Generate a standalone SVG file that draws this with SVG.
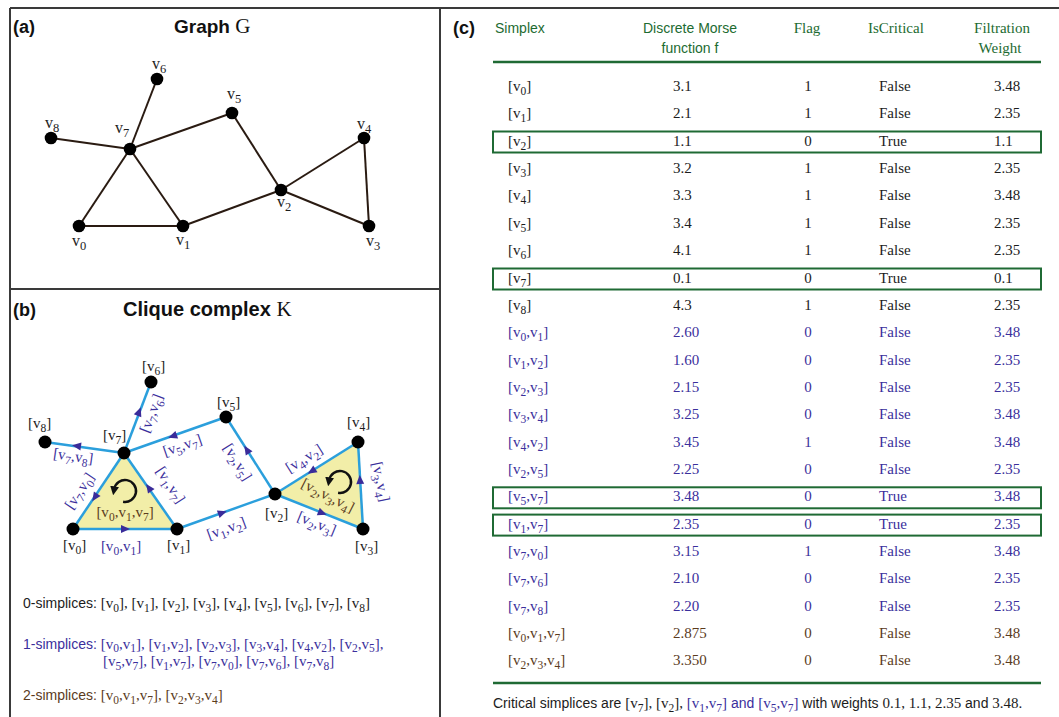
<svg xmlns="http://www.w3.org/2000/svg" width="1059" height="717" viewBox="0 0 1059 717">
<style>
.frame{stroke:#3a3a3a;stroke-width:2;fill:none}
.ser{font-family:"Liberation Serif","Times New Roman",serif;font-size:15px}
.sans{font-family:"Liberation Sans",Arial,sans-serif}
.ttl{font-family:"Liberation Sans",Arial,sans-serif;font-weight:bold;fill:#111}
.s{font-size:11.5px}
.la{font-size:16px}
.la .s{font-size:12.5px}
.ga{stroke:#2a1b12;stroke-width:2;fill:none}
.gb{stroke:#2b9fdc;stroke-width:2.5;fill:none}
.nd{fill:#000}
.k{fill:#1c1c1c}
.p{fill:#3b2f9c}
.br{fill:#5b3b1d}
.g{fill:#1d6b31}
.box{fill:none;stroke:#1f6a34;stroke-width:2}
.hl{stroke:#1f6a34;stroke-width:2.5}
.ah{fill:#3a2c9a}
.tri{fill:#f2eea8;stroke:none}
.rot{stroke:#111;stroke-width:2.5;fill:none}
</style>
<defs>
<path id="ah" d="M5,0 L-4,-4 L-4,4 Z"/>
<marker id="rm" viewBox="0 0 10 10" refX="3" refY="5" markerWidth="3.6" markerHeight="3.6" orient="auto"><path d="M0,0 L10,5 L0,10 Z" fill="#111"/></marker>
</defs>
<rect width="1059" height="717" fill="#fff"/>
<g id="frame" class="frame">
<line x1="10" y1="8" x2="1059" y2="8"/>
<line x1="10" y1="8" x2="10" y2="717"/>
<line x1="440" y1="8" x2="440" y2="717"/>
<line x1="10" y1="289" x2="440" y2="289"/>
</g>

<!-- Panel a -->
<text x="13" y="33" class="ttl" font-size="18">(a)</text>
<text x="174" y="33" class="ttl" font-size="19">Graph <tspan font-family="Liberation Serif, serif" font-weight="normal" font-size="21">G</tspan></text>
<g id="a-edges" class="ga">
<line x1="157" y1="79" x2="130" y2="149"/>
<line x1="51" y1="138" x2="130" y2="149"/>
<line x1="130" y1="149" x2="232" y2="113"/>
<line x1="130" y1="149" x2="79" y2="226"/>
<line x1="130" y1="149" x2="183" y2="226"/>
<line x1="79" y1="226" x2="183" y2="226"/>
<line x1="183" y1="226" x2="281" y2="190"/>
<line x1="232" y1="113" x2="281" y2="190"/>
<line x1="281" y1="190" x2="364" y2="138"/>
<line x1="281" y1="190" x2="369" y2="226"/>
<line x1="364" y1="138" x2="369" y2="226"/>
</g>
<g class="ser k la">
<g id="a-v0"><circle class="nd" cx="79" cy="226" r="6.3"/><text x="72" y="246">v<tspan class="s" dy="4">0</tspan></text></g>
<g id="a-v1"><circle class="nd" cx="183" cy="226" r="6.3"/><text x="176" y="245">v<tspan class="s" dy="4">1</tspan></text></g>
<g id="a-v2"><circle class="nd" cx="281" cy="190" r="6.3"/><text x="277" y="207">v<tspan class="s" dy="4">2</tspan></text></g>
<g id="a-v3"><circle class="nd" cx="369" cy="226" r="6.3"/><text x="366" y="246">v<tspan class="s" dy="4">3</tspan></text></g>
<g id="a-v4"><circle class="nd" cx="364" cy="138" r="6.3"/><text x="357" y="129">v<tspan class="s" dy="4">4</tspan></text></g>
<g id="a-v5"><circle class="nd" cx="232" cy="113" r="6.3"/><text x="227" y="99">v<tspan class="s" dy="4">5</tspan></text></g>
<g id="a-v6"><circle class="nd" cx="157" cy="79" r="6.3"/><text x="152" y="69">v<tspan class="s" dy="4">6</tspan></text></g>
<g id="a-v7"><circle class="nd" cx="130" cy="149" r="6.3"/><text x="115" y="133">v<tspan class="s" dy="4">7</tspan></text></g>
<g id="a-v8"><circle class="nd" cx="51" cy="138" r="6.3"/><text x="45" y="128">v<tspan class="s" dy="4">8</tspan></text></g>
</g>

<!-- Panel b -->
<text x="13" y="316" class="ttl" font-size="18">(b)</text>
<text x="123" y="316" class="ttl" font-size="20">Clique complex <tspan font-family="Liberation Serif, serif" font-weight="normal" font-size="21">K</tspan></text>
<g id="b-faces">
<polygon class="tri" points="73,529 177,529 124,453"/>
<polygon class="tri" points="275,494 363,529 358,442"/>
</g>
<g id="b-edges" class="gb">
<line x1="124" y1="453" x2="45" y2="442"/>
<line x1="124" y1="453" x2="151" y2="382"/>
<line x1="226" y1="417" x2="124" y2="453"/>
<line x1="275" y1="494" x2="226" y2="417"/>
<line x1="177" y1="529" x2="124" y2="453"/>
<line x1="124" y1="453" x2="73" y2="529"/>
<line x1="73" y1="529" x2="177" y2="529"/>
<line x1="177" y1="529" x2="275" y2="494"/>
<line x1="275" y1="494" x2="363" y2="529"/>
<line x1="358" y1="442" x2="275" y2="494"/>
<line x1="363" y1="529" x2="358" y2="442"/>
</g>
<g id="b-arrows" class="ah">
<use href="#ah" transform="translate(77,446) rotate(188)"/>
<use href="#ah" transform="translate(139,412) rotate(-69)"/>
<use href="#ah" transform="translate(173,436) rotate(160.6)"/>
<use href="#ah" transform="translate(247,450) rotate(-122.5)"/>
<use href="#ah" transform="translate(149,488) rotate(-125)"/>
<use href="#ah" transform="translate(95,497) rotate(124)"/>
<use href="#ah" transform="translate(125,529) rotate(0)"/>
<use href="#ah" transform="translate(222,513) rotate(-19.7)"/>
<use href="#ah" transform="translate(322,513) rotate(21.7)"/>
<use href="#ah" transform="translate(312,471) rotate(148)"/>
<use href="#ah" transform="translate(360,480) rotate(-93.3)"/>
</g>
<g id="b-orient">
<path class="rot" d="M123.1,501.8 A11,11 0 1 0 114.2,489.1" marker-end="url(#rm)"/>
<path class="rot" d="M338.1,492.8 A11,11 0 1 0 329.2,480.1" marker-end="url(#rm)"/>
</g>
<g id="b-edge-labels" class="ser p" text-anchor="middle">
<text transform="translate(73,458) rotate(8)" y="3">[v<tspan class="s" dy="4">7</tspan><tspan dy="-4">,v</tspan><tspan class="s" dy="4">8</tspan><tspan dy="-4">]</tspan></text>
<text transform="translate(153,414) rotate(-69)" y="3">[v<tspan class="s" dy="4">7</tspan><tspan dy="-4">,v</tspan><tspan class="s" dy="4">6</tspan><tspan dy="-4">]</tspan></text>
<text transform="translate(183,447) rotate(-19)" y="3">[v<tspan class="s" dy="4">5</tspan><tspan dy="-4">,v</tspan><tspan class="s" dy="4">7</tspan><tspan dy="-4">]</tspan></text>
<text transform="translate(236,463) rotate(58)" y="3">[v<tspan class="s" dy="4">2</tspan><tspan dy="-4">,v</tspan><tspan class="s" dy="4">5</tspan><tspan dy="-4">]</tspan></text>
<text transform="translate(169,486) rotate(57)" y="3">[v<tspan class="s" dy="4">1</tspan><tspan dy="-4">,v</tspan><tspan class="s" dy="4">7</tspan><tspan dy="-4">]</tspan></text>
<text transform="translate(81,492) rotate(-56)" y="3">[v<tspan class="s" dy="4">7</tspan><tspan dy="-4">,v</tspan><tspan class="s" dy="4">0</tspan><tspan dy="-4">]</tspan></text>
<text transform="translate(121,548)" y="3">[v<tspan class="s" dy="4">0</tspan><tspan dy="-4">,v</tspan><tspan class="s" dy="4">1</tspan><tspan dy="-4">]</tspan></text>
<text transform="translate(227,530) rotate(-20)" y="3">[v<tspan class="s" dy="4">1</tspan><tspan dy="-4">,v</tspan><tspan class="s" dy="4">2</tspan><tspan dy="-4">]</tspan></text>
<text transform="translate(316,525) rotate(22)" y="3">[v<tspan class="s" dy="4">2</tspan><tspan dy="-4">,v</tspan><tspan class="s" dy="4">3</tspan><tspan dy="-4">]</tspan></text>
<text transform="translate(305,460) rotate(-32)" y="3">[v<tspan class="s" dy="4">4</tspan><tspan dy="-4">,v</tspan><tspan class="s" dy="4">2</tspan><tspan dy="-4">]</tspan></text>
<text transform="translate(379,482) rotate(78)" y="3">[v<tspan class="s" dy="4">3</tspan><tspan dy="-4">,v</tspan><tspan class="s" dy="4">4</tspan><tspan dy="-4">]</tspan></text>
<text class="br" transform="translate(125,514)" y="3">[v<tspan class="s" dy="4">0</tspan><tspan dy="-4">,v</tspan><tspan class="s" dy="4">1</tspan><tspan dy="-4">,v</tspan><tspan class="s" dy="4">7</tspan><tspan dy="-4">]</tspan></text>
<text class="br" transform="translate(327,497) rotate(27)" y="3">[v<tspan class="s" dy="4">2</tspan><tspan dy="-4">,v</tspan><tspan class="s" dy="4">3</tspan><tspan dy="-4">,v</tspan><tspan class="s" dy="4">4</tspan><tspan dy="-4">]</tspan></text>
</g>
<g class="ser k">
<g id="b-v0"><circle class="nd" cx="73" cy="529" r="6.5"/><text x="63" y="550">[v<tspan class="s" dy="4">0</tspan><tspan dy="-4">]</tspan></text></g>
<g id="b-v1"><circle class="nd" cx="177" cy="529" r="6.5"/><text x="167" y="550">[v<tspan class="s" dy="4">1</tspan><tspan dy="-4">]</tspan></text></g>
<g id="b-v2"><circle class="nd" cx="275" cy="494" r="6.5"/><text x="265" y="518">[v<tspan class="s" dy="4">2</tspan><tspan dy="-4">]</tspan></text></g>
<g id="b-v3"><circle class="nd" cx="363" cy="529" r="6.5"/><text x="355" y="551">[v<tspan class="s" dy="4">3</tspan><tspan dy="-4">]</tspan></text></g>
<g id="b-v4"><circle class="nd" cx="358" cy="442" r="6.5"/><text x="347" y="427">[v<tspan class="s" dy="4">4</tspan><tspan dy="-4">]</tspan></text></g>
<g id="b-v5"><circle class="nd" cx="226" cy="417" r="6.5"/><text x="217" y="407">[v<tspan class="s" dy="4">5</tspan><tspan dy="-4">]</tspan></text></g>
<g id="b-v6"><circle class="nd" cx="151" cy="382" r="6.5"/><text x="142" y="371">[v<tspan class="s" dy="4">6</tspan><tspan dy="-4">]</tspan></text></g>
<g id="b-v7"><circle class="nd" cx="124" cy="453" r="6.5"/><text x="103" y="440">[v<tspan class="s" dy="4">7</tspan><tspan dy="-4">]</tspan></text></g>
<g id="b-v8"><circle class="nd" cx="45" cy="442" r="6.5"/><text x="28" y="428">[v<tspan class="s" dy="4">8</tspan><tspan dy="-4">]</tspan></text></g>
</g>
<g id="b-lists" class="ser">
<text x="23" y="608" class="k"><tspan class="sans" font-size="14">0-simplices: </tspan>[v<tspan class="s" dy="4">0</tspan><tspan dy="-4">], [v</tspan><tspan class="s" dy="4">1</tspan><tspan dy="-4">], [v</tspan><tspan class="s" dy="4">2</tspan><tspan dy="-4">], [v</tspan><tspan class="s" dy="4">3</tspan><tspan dy="-4">], [v</tspan><tspan class="s" dy="4">4</tspan><tspan dy="-4">], [v</tspan><tspan class="s" dy="4">5</tspan><tspan dy="-4">], [v</tspan><tspan class="s" dy="4">6</tspan><tspan dy="-4">], [v</tspan><tspan class="s" dy="4">7</tspan><tspan dy="-4">], [v</tspan><tspan class="s" dy="4">8</tspan><tspan dy="-4">]</tspan></text>
<text x="23" y="649" class="p"><tspan class="sans" font-size="14">1-simplices: </tspan>[v<tspan class="s" dy="3">0</tspan><tspan dy="-3">,v</tspan><tspan class="s" dy="3">1</tspan><tspan dy="-3">], [v</tspan><tspan class="s" dy="3">1</tspan><tspan dy="-3">,v</tspan><tspan class="s" dy="3">2</tspan><tspan dy="-3">], [v</tspan><tspan class="s" dy="3">2</tspan><tspan dy="-3">,v</tspan><tspan class="s" dy="3">3</tspan><tspan dy="-3">], [v</tspan><tspan class="s" dy="3">3</tspan><tspan dy="-3">,v</tspan><tspan class="s" dy="3">4</tspan><tspan dy="-3">], [v</tspan><tspan class="s" dy="3">4</tspan><tspan dy="-3">,v</tspan><tspan class="s" dy="3">2</tspan><tspan dy="-3">], [v</tspan><tspan class="s" dy="3">2</tspan><tspan dy="-3">,v</tspan><tspan class="s" dy="3">5</tspan><tspan dy="-3">],</tspan></text>
<text x="103" y="666" class="p">[v<tspan class="s" dy="4">5</tspan><tspan dy="-4">,v</tspan><tspan class="s" dy="4">7</tspan><tspan dy="-4">], [v</tspan><tspan class="s" dy="4">1</tspan><tspan dy="-4">,v</tspan><tspan class="s" dy="4">7</tspan><tspan dy="-4">], [v</tspan><tspan class="s" dy="4">7</tspan><tspan dy="-4">,v</tspan><tspan class="s" dy="4">0</tspan><tspan dy="-4">], [v</tspan><tspan class="s" dy="4">7</tspan><tspan dy="-4">,v</tspan><tspan class="s" dy="4">6</tspan><tspan dy="-4">], [v</tspan><tspan class="s" dy="4">7</tspan><tspan dy="-4">,v</tspan><tspan class="s" dy="4">8</tspan><tspan dy="-4">]</tspan></text>
<text x="23" y="700" class="br"><tspan class="sans" font-size="14">2-simplices: </tspan>[v<tspan class="s" dy="4">0</tspan><tspan dy="-4">,v</tspan><tspan class="s" dy="4">1</tspan><tspan dy="-4">,v</tspan><tspan class="s" dy="4">7</tspan><tspan dy="-4">], [v</tspan><tspan class="s" dy="4">2</tspan><tspan dy="-4">,v</tspan><tspan class="s" dy="4">3</tspan><tspan dy="-4">,v</tspan><tspan class="s" dy="4">4</tspan><tspan dy="-4">]</tspan></text>
</g>

<!-- Panel c -->
<text x="453" y="34" class="ttl" font-size="18">(c)</text>
<g id="c-header" class="g">
<text x="495" y="33" class="sans" font-size="14">Simplex</text>
<text x="690" y="33" class="sans" font-size="14" text-anchor="middle">Discrete Morse</text>
<text x="690" y="53" class="sans" font-size="14" text-anchor="middle">function f</text>
<text x="807" y="33" class="ser" text-anchor="middle">Flag</text>
<text x="868" y="33" class="ser">IsCritical</text>
<text x="1002" y="33" class="ser" text-anchor="middle">Filtration</text>
<text x="1000" y="53" class="ser" text-anchor="middle">Weight</text>
</g>
<g id="c-rules">
<line class="hl" x1="493" y1="62" x2="1041" y2="62"/>
<line class="hl" x1="493" y1="683" x2="1041" y2="683"/>
<rect class="box" x="493" y="131.5" width="548" height="21"/>
<rect class="box" x="493" y="268.5" width="548" height="21"/>
<rect class="box" x="493" y="487.3" width="548" height="21"/>
<rect class="box" x="493" y="514.6" width="548" height="21"/>
</g>
<g id="c-rows" class="ser">
<g class="k" transform="translate(0,91)"><text x="508">[v<tspan class="s" dy="4">0</tspan><tspan dy="-4">]</tspan></text><text x="673">3.1</text><text x="808" text-anchor="middle">1</text><text x="879">False</text><text x="994">3.48</text></g>
<g class="k" transform="translate(0,118.4)"><text x="508">[v<tspan class="s" dy="4">1</tspan><tspan dy="-4">]</tspan></text><text x="673">2.1</text><text x="808" text-anchor="middle">1</text><text x="879">False</text><text x="994">2.35</text></g>
<g class="k" transform="translate(0,145.7)"><text x="508">[v<tspan class="s" dy="4">2</tspan><tspan dy="-4">]</tspan></text><text x="673">1.1</text><text x="808" text-anchor="middle">0</text><text x="879">True</text><text x="994">1.1</text></g>
<g class="k" transform="translate(0,173.1)"><text x="508">[v<tspan class="s" dy="4">3</tspan><tspan dy="-4">]</tspan></text><text x="673">3.2</text><text x="808" text-anchor="middle">1</text><text x="879">False</text><text x="994">2.35</text></g>
<g class="k" transform="translate(0,200.4)"><text x="508">[v<tspan class="s" dy="4">4</tspan><tspan dy="-4">]</tspan></text><text x="673">3.3</text><text x="808" text-anchor="middle">1</text><text x="879">False</text><text x="994">3.48</text></g>
<g class="k" transform="translate(0,227.8)"><text x="508">[v<tspan class="s" dy="4">5</tspan><tspan dy="-4">]</tspan></text><text x="673">3.4</text><text x="808" text-anchor="middle">1</text><text x="879">False</text><text x="994">2.35</text></g>
<g class="k" transform="translate(0,255.1)"><text x="508">[v<tspan class="s" dy="4">6</tspan><tspan dy="-4">]</tspan></text><text x="673">4.1</text><text x="808" text-anchor="middle">1</text><text x="879">False</text><text x="994">2.35</text></g>
<g class="k" transform="translate(0,282.5)"><text x="508">[v<tspan class="s" dy="4">7</tspan><tspan dy="-4">]</tspan></text><text x="673">0.1</text><text x="808" text-anchor="middle">0</text><text x="879">True</text><text x="994">0.1</text></g>
<g class="k" transform="translate(0,309.8)"><text x="508">[v<tspan class="s" dy="4">8</tspan><tspan dy="-4">]</tspan></text><text x="673">4.3</text><text x="808" text-anchor="middle">1</text><text x="879">False</text><text x="994">2.35</text></g>
<g class="p" transform="translate(0,337.2)"><text x="508">[v<tspan class="s" dy="4">0</tspan><tspan dy="-4">,v</tspan><tspan class="s" dy="4">1</tspan><tspan dy="-4">]</tspan></text><text x="673">2.60</text><text x="808" text-anchor="middle">0</text><text x="879">False</text><text x="994">3.48</text></g>
<g class="p" transform="translate(0,364.5)"><text x="508">[v<tspan class="s" dy="4">1</tspan><tspan dy="-4">,v</tspan><tspan class="s" dy="4">2</tspan><tspan dy="-4">]</tspan></text><text x="673">1.60</text><text x="808" text-anchor="middle">0</text><text x="879">False</text><text x="994">2.35</text></g>
<g class="p" transform="translate(0,391.9)"><text x="508">[v<tspan class="s" dy="4">2</tspan><tspan dy="-4">,v</tspan><tspan class="s" dy="4">3</tspan><tspan dy="-4">]</tspan></text><text x="673">2.15</text><text x="808" text-anchor="middle">0</text><text x="879">False</text><text x="994">2.35</text></g>
<g class="p" transform="translate(0,419.2)"><text x="508">[v<tspan class="s" dy="4">3</tspan><tspan dy="-4">,v</tspan><tspan class="s" dy="4">4</tspan><tspan dy="-4">]</tspan></text><text x="673">3.25</text><text x="808" text-anchor="middle">0</text><text x="879">False</text><text x="994">3.48</text></g>
<g class="p" transform="translate(0,446.6)"><text x="508">[v<tspan class="s" dy="4">4</tspan><tspan dy="-4">,v</tspan><tspan class="s" dy="4">2</tspan><tspan dy="-4">]</tspan></text><text x="673">3.45</text><text x="808" text-anchor="middle">1</text><text x="879">False</text><text x="994">3.48</text></g>
<g class="p" transform="translate(0,473.9)"><text x="508">[v<tspan class="s" dy="4">2</tspan><tspan dy="-4">,v</tspan><tspan class="s" dy="4">5</tspan><tspan dy="-4">]</tspan></text><text x="673">2.25</text><text x="808" text-anchor="middle">0</text><text x="879">False</text><text x="994">2.35</text></g>
<g class="p" transform="translate(0,501.3)"><text x="508">[v<tspan class="s" dy="4">5</tspan><tspan dy="-4">,v</tspan><tspan class="s" dy="4">7</tspan><tspan dy="-4">]</tspan></text><text x="673">3.48</text><text x="808" text-anchor="middle">0</text><text x="879">True</text><text x="994">3.48</text></g>
<g class="p" transform="translate(0,528.6)"><text x="508">[v<tspan class="s" dy="4">1</tspan><tspan dy="-4">,v</tspan><tspan class="s" dy="4">7</tspan><tspan dy="-4">]</tspan></text><text x="673">2.35</text><text x="808" text-anchor="middle">0</text><text x="879">True</text><text x="994">2.35</text></g>
<g class="p" transform="translate(0,556)"><text x="508">[v<tspan class="s" dy="4">7</tspan><tspan dy="-4">,v</tspan><tspan class="s" dy="4">0</tspan><tspan dy="-4">]</tspan></text><text x="673">3.15</text><text x="808" text-anchor="middle">1</text><text x="879">False</text><text x="994">3.48</text></g>
<g class="p" transform="translate(0,583.3)"><text x="508">[v<tspan class="s" dy="4">7</tspan><tspan dy="-4">,v</tspan><tspan class="s" dy="4">6</tspan><tspan dy="-4">]</tspan></text><text x="673">2.10</text><text x="808" text-anchor="middle">0</text><text x="879">False</text><text x="994">2.35</text></g>
<g class="p" transform="translate(0,610.7)"><text x="508">[v<tspan class="s" dy="4">7</tspan><tspan dy="-4">,v</tspan><tspan class="s" dy="4">8</tspan><tspan dy="-4">]</tspan></text><text x="673">2.20</text><text x="808" text-anchor="middle">0</text><text x="879">False</text><text x="994">2.35</text></g>
<g class="br" transform="translate(0,638)"><text x="508">[v<tspan class="s" dy="4">0</tspan><tspan dy="-4">,v</tspan><tspan class="s" dy="4">1</tspan><tspan dy="-4">,v</tspan><tspan class="s" dy="4">7</tspan><tspan dy="-4">]</tspan></text><text x="673">2.875</text><text x="808" text-anchor="middle">0</text><text x="879">False</text><text x="994">3.48</text></g>
<g class="br" transform="translate(0,665.4)"><text x="508">[v<tspan class="s" dy="4">2</tspan><tspan dy="-4">,v</tspan><tspan class="s" dy="4">3</tspan><tspan dy="-4">,v</tspan><tspan class="s" dy="4">4</tspan><tspan dy="-4">]</tspan></text><text x="673">3.350</text><text x="808" text-anchor="middle">0</text><text x="879">False</text><text x="994">3.48</text></g>
</g>
<text id="c-footer" x="493" y="708" class="ser k"><tspan class="sans" font-size="14">Critical simplices are </tspan>[v<tspan class="s" dy="4">7</tspan><tspan dy="-4">], [v</tspan><tspan class="s" dy="4">2</tspan><tspan dy="-4">], </tspan><tspan class="p">[v<tspan class="s" dy="4">1</tspan><tspan dy="-4">,v</tspan><tspan class="s" dy="4">7</tspan><tspan dy="-4">]</tspan><tspan class="sans" font-size="14"> and </tspan>[v<tspan class="s" dy="4">5</tspan><tspan dy="-4">,v</tspan><tspan class="s" dy="4">7</tspan><tspan dy="-4">]</tspan></tspan><tspan class="sans" font-size="14"> with weights </tspan>0.1, 1.1, 2.35<tspan class="sans" font-size="14"> and </tspan>3.48.</text>
</svg>
